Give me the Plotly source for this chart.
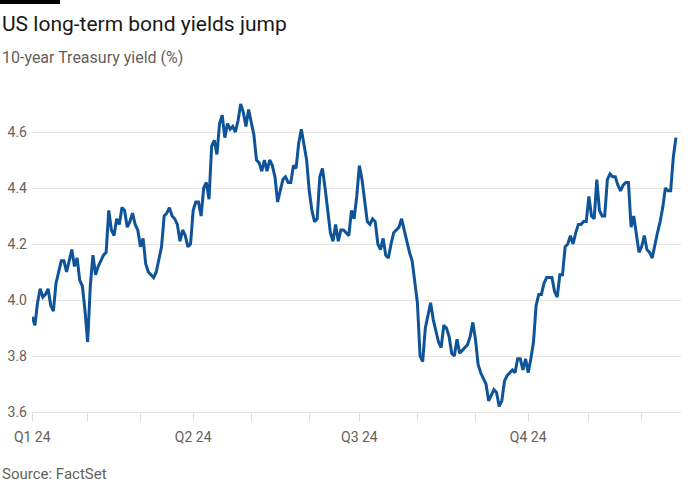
import pandas as pd
import plotly.graph_objects as go

title = "US long-term bond yields jump"
subtitle = "10-year Treasury yield (%)"
source = "Source: FactSet"

# market holidays excluded from the trading-day series
holidays = ["2024-01-15", "2024-02-19", "2024-03-29", "2024-05-27",
            "2024-06-19", "2024-07-04", "2024-09-02", "2024-11-28"]

# 10-year Treasury yield (%), daily, by month
jan = [3.94, 3.91, 3.99, 4.04, 4.01, 4.02, 4.04, 3.98, 3.96, 4.06, 4.10,
       4.14, 4.14, 4.10, 4.14, 4.18, 4.12, 4.15, 4.07, 4.05, 3.96]
feb = [3.85, 4.05, 4.16, 4.09, 4.12, 4.14, 4.16, 4.17, 4.32, 4.25,
       4.23, 4.29, 4.27, 4.33, 4.32, 4.26, 4.28, 4.31, 4.27, 4.25]
mar = [4.19, 4.22, 4.13, 4.10, 4.09, 4.08, 4.10, 4.15, 4.19, 4.30,
       4.31, 4.33, 4.30, 4.29, 4.27, 4.21, 4.25, 4.23, 4.19, 4.20]
apr = [4.32, 4.35, 4.35, 4.30, 4.40, 4.42, 4.36, 4.55, 4.57, 4.52, 4.63,
       4.66, 4.58, 4.63, 4.61, 4.62, 4.60, 4.64, 4.70, 4.67, 4.62, 4.68]
may = [4.64, 4.59, 4.50, 4.49, 4.46, 4.50, 4.46, 4.50, 4.48, 4.44, 4.35,
       4.39, 4.43, 4.44, 4.42, 4.42, 4.48, 4.47, 4.56, 4.61, 4.55, 4.50]
jun = [4.39, 4.32, 4.28, 4.29, 4.44, 4.47, 4.40, 4.32, 4.24, 4.21,
       4.27, 4.21, 4.25, 4.25, 4.24, 4.23, 4.32, 4.29, 4.37]
jul = [4.48, 4.43, 4.36, 4.28, 4.27, 4.29, 4.28, 4.20, 4.18, 4.22, 4.16,
       4.15, 4.20, 4.24, 4.25, 4.26, 4.29, 4.25, 4.20, 4.17, 4.14, 4.07]
aug = [3.99, 3.80, 3.78, 3.90, 3.95, 3.99, 3.93, 3.89, 3.85, 3.83, 3.91,
       3.90, 3.87, 3.81, 3.80, 3.86, 3.81, 3.82, 3.83, 3.84, 3.87, 3.92]
sep = [3.86, 3.77, 3.74, 3.72, 3.70, 3.64, 3.66, 3.68, 3.67, 3.62,
       3.64, 3.71, 3.73, 3.74, 3.75, 3.74, 3.79, 3.79, 3.75, 3.79]
oct_ = [3.74, 3.79, 3.85, 3.98, 4.02, 4.02, 4.06, 4.08, 4.08, 4.08, 4.03, 4.01,
        4.09, 4.09, 4.19, 4.20, 4.23, 4.20, 4.24, 4.27, 4.27, 4.28, 4.28]
nov = [4.37, 4.30, 4.29, 4.43, 4.32, 4.30, 4.30, 4.43, 4.45, 4.44,
       4.44, 4.41, 4.39, 4.41, 4.42, 4.42, 4.26, 4.30, 4.24, 4.17]
dec = [4.19, 4.23, 4.18, 4.17, 4.15, 4.20, 4.24, 4.28, 4.33, 4.40,
       4.39, 4.39, 4.51, 4.58]

yields = jan + feb + mar + apr + may + jun + jul + aug + sep + oct_ + nov + dec

dates = [d.strftime("%Y-%m-%d") for d in pd.bdate_range("2024-01-02", "2024-12-19")
         if d.strftime("%Y-%m-%d") not in holidays]
assert len(dates) == len(yields), (len(dates), len(yields))

quarter_labels = {"2024-01": "Q1 24", "2024-04": "Q2 24",
                  "2024-07": "Q3 24", "2024-10": "Q4 24"}
month_starts = []
seen = set()
for d in dates:
    if d[:7] not in seen:
        seen.add(d[:7])
        month_starts.append(d)
x_ticktext = [quarter_labels.get(d[:7], "") for d in month_starts]

y_ticks = [3.6, 3.8, 4.0, 4.2, 4.4, 4.6]
y_ticktext = ["3.6", "3.8", "4.0", "4.2", "4.4", "4.6"]

FONT = "Roboto, 'Noto Sans', sans-serif"
GREY = "#66605c"
GRID = "#e9e4df"

L, R, T, B = 32, 19, 99, 88
W, H = 700, 500
PW, PH = W - L - R, H - T - B


def px_x(px):
    return (px - L) / PW


def px_y(py):
    return (H - B - py) / PH


fig = go.Figure()
fig.add_trace(go.Scatter(
    x=dates, y=yields, mode="lines",
    line=dict(color="#0f5499", width=3),
    hoverinfo="x+y", showlegend=False,
))

fig.update_layout(
    width=W, height=H,
    margin=dict(l=L, r=R, t=T, b=B, autoexpand=False),
    paper_bgcolor="white", plot_bgcolor="white",
    font=dict(family=FONT, color=GREY, size=14),
    xaxis=dict(
        type="category", automargin=False,
        range=[-0.1, -0.1 + PW / 2.638],
        tickmode="array", tickvals=month_starts, ticktext=x_ticktext,
        ticks="outside", ticklen=8, tickcolor="#e2dcd6", tickwidth=1,
        ticklabelstandoff=4,
        showgrid=False, showline=True, linecolor=GRID, linewidth=1,
        tickfont=dict(size=14, color=GREY),
        zeroline=False,
    ),
    yaxis=dict(
        automargin=False,
        range=[3.6, 3.6 + PH / 280.0],
        tickmode="array", tickvals=y_ticks, ticktext=y_ticktext,
        showgrid=True, gridcolor=GRID, gridwidth=1,
        ticks="", ticklabelstandoff=4,
        tickfont=dict(size=14, color=GREY),
        showline=False, zeroline=False,
    ),
    shapes=[dict(type="rect", xref="paper", yref="paper",
                 x0=px_x(0), x1=px_x(60), y0=px_y(4), y1=px_y(0),
                 fillcolor="black", line=dict(width=0))],
    annotations=[
        dict(text=title, xref="paper", yref="paper", x=px_x(0), y=px_y(24),
             xanchor="left", yanchor="middle", showarrow=False,
             font=dict(size=21, color="#1a1817", family=FONT)),
        dict(text=subtitle, xref="paper", yref="paper", x=px_x(0), y=px_y(57),
             xanchor="left", yanchor="middle", showarrow=False,
             font=dict(size=16, color=GREY, family=FONT)),
        dict(text=source, xref="paper", yref="paper", x=px_x(0), y=px_y(474),
             xanchor="left", yanchor="middle", showarrow=False,
             font=dict(size=15, color=GREY, family=FONT)),
    ],
)

fig.write_html("out.html", config={"displayModeBar": False},
               post_script="document.body.style.margin='0';")
